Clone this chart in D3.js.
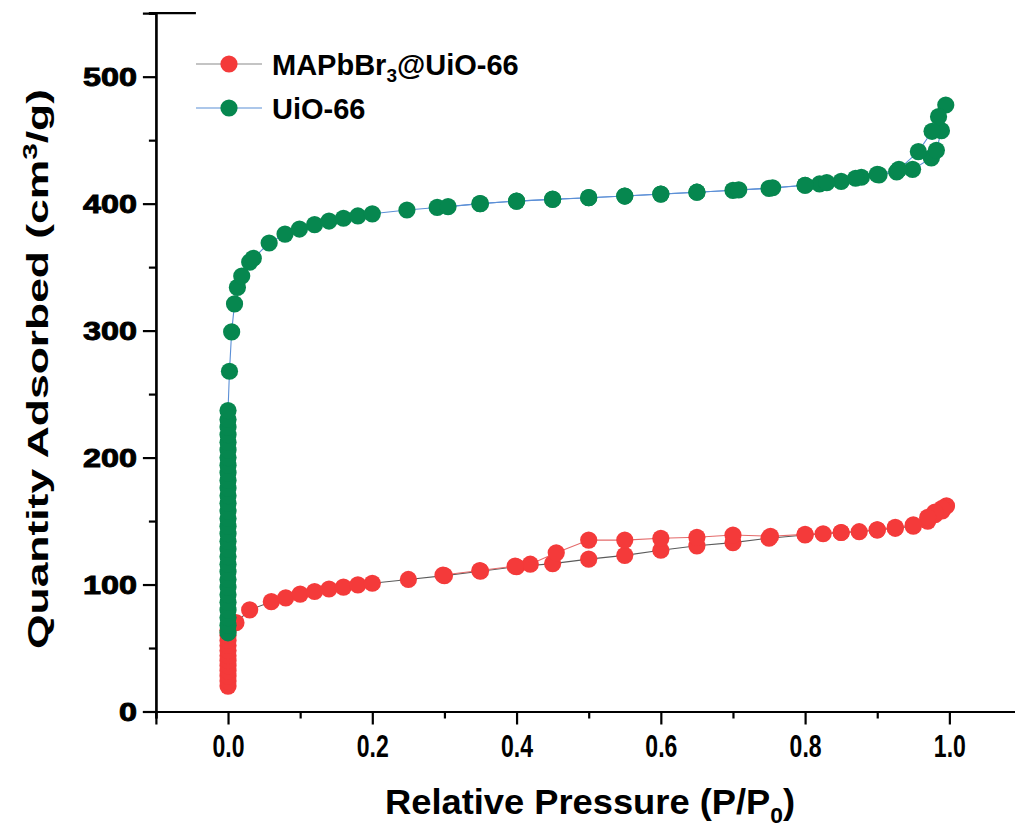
<!DOCTYPE html>
<html><head><meta charset="utf-8">
<script src="https://cdn.jsdelivr.net/npm/d3@7"></script>
<style>html,body{margin:0;padding:0;background:#fff;}svg{display:block;}</style>
</head><body>
<svg id="c" width="1015" height="827"></svg>
<script>
// ---- data ----
const seriesNames = ["MAPbBr3@UiO-66", "UiO-66"];
const redAdsP = [0,0,0,0,0,0,0,0,0,0,0,0,0.011,0.03,0.06,0.08,0.1,0.12,0.14,0.16,0.18,0.2,0.25,0.3,0.35,0.4,0.45,0.5,0.55,0.6,0.65,0.7,0.75,0.8,0.825,0.85,0.875,0.9,0.925,0.95,0.97,0.98,0.99,0.996];
const redAdsV = [20,24,28,32,36,40,44,48,52,56,60,64,70,80,86.5,89.5,92.5,94.5,96.5,98,99.7,101,104,107,110.5,114,116.5,120,123,127,130.5,133,136.5,139,140,141,141.6,143,144.3,146,150,155,158,162];
const redDesP = [0.99,0.98,0.97,0.95,0.925,0.9,0.85,0.8,0.752,0.7,0.65,0.6,0.55,0.5,0.455,0.419,0.398,0.349,0.298];
const redDesV = [160,157,153,147,145,143,141,139.5,138,139,137.2,136.4,135,135,125,116,114.5,111,107.5];
const greenAdsP = [0,0,0,0,0,0,0,0,0,0,0,0,0,0,0,0,0,0,0,0,0,0,0,0,0,0,0,0,0,0,0.002,0.005,0.009,0.013,0.019,0.03,0.035,0.057,0.079,0.099,0.12,0.14,0.16,0.18,0.2,0.248,0.29,0.349,0.4,0.45,0.5,0.55,0.6,0.65,0.7,0.75,0.8,0.82,0.85,0.878,0.9025,0.927,0.949,0.975,0.982,0.989,0.995];
const greenAdsV = [62,68,74,80,86,92,98,104,110,116,122,128,134,140,146,152,158,164,170,176,182,188,194,200,206,212,218,224,230,237,268,299,321,334,343,354,357,369,376,380,383.5,386.3,388.5,390.3,392,395,397,400,402,403.4,404.7,406,407.6,409,410.5,412,414.5,415.5,417.6,420.8,422.6,425,427,436,442,457.5,477.7];
const greenDesP = [0.985,0.976,0.957,0.93,0.9,0.87,0.83,0.8,0.755,0.708,0.65,0.6,0.55,0.5,0.45,0.4,0.35,0.305];
const greenDesV = [468.5,457,441,427,423,420,416.5,414.5,412.5,410.8,409,407.5,406,404.7,403.5,402,400,397.6];
const xMajor = [0,0.2,0.4,0.6,0.8,1.0];
const xMinor = [-0.1,0.1,0.3,0.5,0.7,0.9,1.1];
const yMajor = [0,100,200,300,400,500];
const yMinor = [50,150,250,350,450,550];
const xLabels = ["0.0","0.2","0.4","0.6","0.8","1.0"];

// ---- layout ----
const svg = d3.select("#c");
const x = d3.scaleLinear().domain([-0.1, 1.1]).range([155.9, 1021.5]);
const y = d3.scaleLinear().domain([0, 550]).range([711.5, 13.2]);
const FONT = "'Liberation Sans', Arial, sans-serif";
const RED = "#f43a3a", GREEN = "#06874f";
const R = 8.6;

// series
function drawSeries(adsP, adsV, desP, desV, color, adsLine, desLine) {
  const ads = adsP.map((p, i) => [p, adsV[i]]);
  const des = [ads[ads.length - 1]].concat(desP.map((p, i) => [p, desV[i]]));
  const line = d3.line().x(d => x(d[0])).y(d => y(d[1]));
  const g = svg.append("g");
  g.append("path").attr("d", line(ads)).attr("fill", "none").attr("stroke", adsLine).attr("stroke-width", 1.1);
  g.append("path").attr("d", line(des)).attr("fill", "none").attr("stroke", desLine).attr("stroke-width", 1.1);
  g.selectAll("circle.a").data(ads).join("circle").attr("cx", d => x(d[0])).attr("cy", d => y(d[1])).attr("r", R).attr("fill", color);
  g.selectAll("circle.d").data(des.slice(1)).join("circle").attr("cx", d => x(d[0])).attr("cy", d => y(d[1])).attr("r", R).attr("fill", color);
}
drawSeries(redAdsP, redAdsV, redDesP, redDesV, RED, "#5a5a5a", "#e46a6a");
drawSeries(greenAdsP, greenAdsV, greenDesP, greenDesV, GREEN, "#5b8fd6", "#5b8fd6");

// axes
const xAxisMaj = d3.axisBottom(x).tickValues(xMajor).tickSize(13).tickFormat((d, i) => xLabels[i]);
const xAxisMin = d3.axisBottom(x).tickValues(xMinor).tickSize(7).tickFormat("");
const yAxisMaj = d3.axisLeft(y).tickValues(yMajor).tickSize(13).tickFormat(d3.format("d"));
const yAxisMin = d3.axisLeft(y).tickValues(yMinor).tickSize(7).tickFormat("");

const gx = svg.append("g").attr("transform", `translate(0,${y(0)})`);
gx.append("g").call(xAxisMin);
gx.append("g").call(xAxisMaj);
const gy = svg.append("g").attr("transform", `translate(${x(-0.1)},0)`);
gy.append("g").call(yAxisMin);
gy.append("g").call(yAxisMaj);

svg.selectAll(".domain").attr("stroke", "#000").attr("stroke-width", 2.2);
svg.selectAll(".tick line").attr("stroke", "#000").attr("stroke-width", 2.2);

gx.selectAll(".tick text")
  .attr("font-family", FONT).attr("font-weight", "bold").attr("font-size", 31)
  .attr("fill", "#000").attr("y", 22).attr("dy", "0.75em")
  .attr("textLength", 32).attr("lengthAdjust", "spacingAndGlyphs");
gy.selectAll(".tick text")
  .attr("font-family", FONT).attr("font-weight", "bold").attr("font-size", 25)
  .attr("fill", "#000").attr("stroke", "#000").attr("stroke-width", 0.9)
  .attr("x", -19).attr("dy", "0.36em")
  .attr("textLength", function () { return 18 * this.textContent.length; })
  .attr("lengthAdjust", "spacingAndGlyphs");

// top cap of y axis
svg.append("line").attr("x1", x(-0.1) - 7).attr("x2", x(-0.1) + 40)
  .attr("y1", y(550)).attr("y2", y(550)).attr("stroke", "#000").attr("stroke-width", 2.2);

// axis titles
const xt = svg.append("text").attr("x", 590).attr("y", 814).attr("text-anchor", "middle")
  .attr("font-family", FONT).attr("font-weight", "bold").attr("font-size", 35).attr("fill", "#000")
  .attr("textLength", 410).attr("lengthAdjust", "spacingAndGlyphs");
xt.append("tspan").text("Relative Pressure (P/P");
xt.append("tspan").attr("font-size", 22).attr("dy", 9).text("0");
xt.append("tspan").attr("dy", -9).text(")");

const yt = svg.append("text").attr("transform", "translate(48,369) rotate(-90)").attr("text-anchor", "middle")
  .attr("font-family", FONT).attr("font-weight", "bold").attr("font-size", 30).attr("fill", "#000")
  .attr("textLength", 560).attr("lengthAdjust", "spacingAndGlyphs");
yt.append("tspan").text("Quantity Adsorbed (cm");
yt.append("tspan").attr("font-size", 20).attr("dy", -11).text("3");
yt.append("tspan").attr("dy", 11).text("/g)");

// legend
const legend = svg.append("g");
const legItems = [
  { color: RED, line: "#8a8a8a", y: 64 },
  { color: GREEN, line: "#5b8fd6", y: 108 }
];
legItems.forEach((it) => {
  legend.append("line").attr("x1", 196).attr("x2", 262).attr("y1", it.y).attr("y2", it.y).attr("stroke", it.line).attr("stroke-width", 1.2);
  legend.append("circle").attr("cx", 229).attr("cy", it.y).attr("r", R).attr("fill", it.color);
});
const l1 = legend.append("text").attr("x", 272).attr("y", 75).attr("font-family", FONT).attr("font-weight", "bold").attr("font-size", 29).attr("fill", "#000");
l1.append("tspan").text("MAPbBr");
l1.append("tspan").attr("font-size", 19).attr("dy", 7).text("3");
l1.append("tspan").attr("dy", -7).text("@UiO-66");
legend.append("text").attr("x", 272).attr("y", 119).attr("font-family", FONT).attr("font-weight", "bold").attr("font-size", 29).attr("fill", "#000").text(seriesNames[1]);
</script>
</body></html>
